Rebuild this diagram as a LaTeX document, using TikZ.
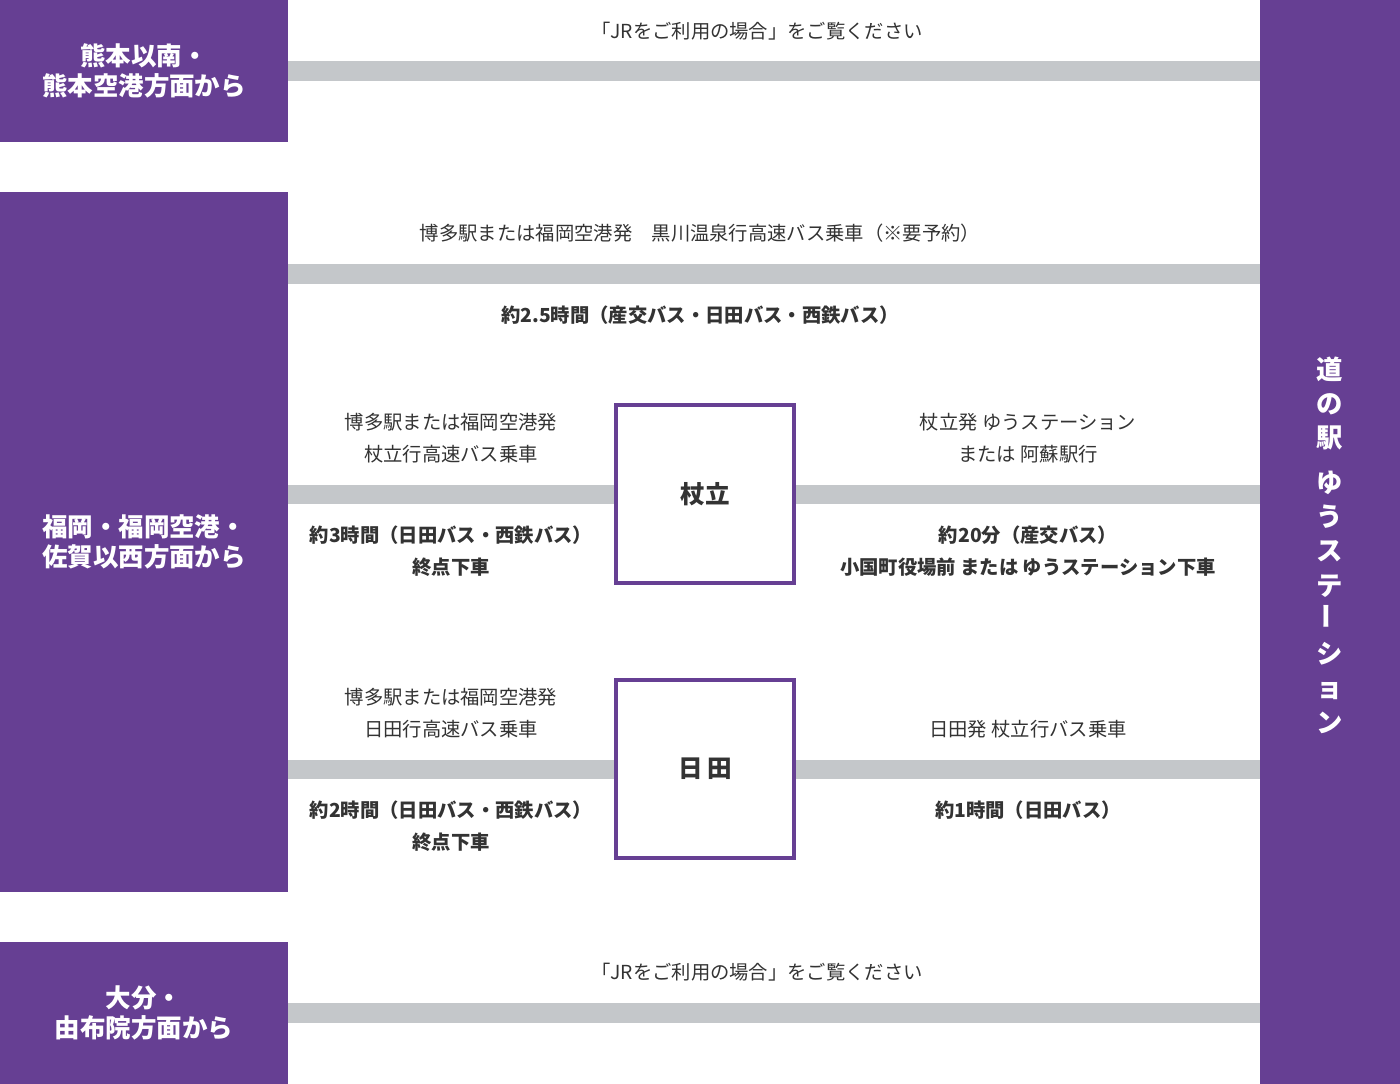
\documentclass[tikz,border=0pt]{standalone}
\usepackage{fontspec}
\setmainfont{Noto Sans CJK JP}
\usepackage{graphicx}
\usetikzlibrary{positioning}
\definecolor{purp}{HTML}{663F93}
\definecolor{barg}{HTML}{C4C7CA}
\definecolor{txt}{HTML}{333333}

\begin{document}
\begin{tikzpicture}[
    x=0.02cm, y=-0.02cm,
    side/.style={fill=purp, draw=none},
    sidetxt/.style={text=white, font=\fontsize{14.5}{17}\selectfont\bfseries, align=center},
    bar/.style={fill=barg, draw=none},
    note/.style={text=txt, font=\fontsize{11}{18}\selectfont, align=center},
    time/.style={text=txt, font=\fontsize{11}{18}\selectfont\bfseries, align=center},
    stop/.style={draw=purp, line width=2.3pt, fill=white, minimum width=3.55cm, minimum height=3.55cm, text=txt, font=\fontsize{14}{16}\selectfont\bfseries}
]

\useasboundingbox (0,0) rectangle (1400,1084);

% --- 1. 左右の帯 ---
\fill[side] (0,0) rectangle (288,142);
\fill[side] (0,192) rectangle (288,892);
\fill[side] (0,942) rectangle (288,1084);
\fill[side] (1260,0) rectangle (1400,1084);

\node[sidetxt] (from_kuma) at (144,71) {熊本以南・\\熊本空港方面から};
\node[sidetxt] (from_fuku) at (144,542) {福岡・福岡空港・\\佐賀以西方面から};
\node[sidetxt] (from_oita) at (144,1013) {大分・\\由布院方面から};
\node[sidetxt, font=\fontsize{15}{19.5}\selectfont\bfseries] (goal) at (1330,545)
    {道\\の\\駅\\[6pt]ゆ\\う\\ス\\テ\\\rotatebox{90}{ー}\\シ\\ョ\\ン};

% --- 2. 路線 (灰色の帯) ---
\fill[bar] (288,61) rectangle (1260,81);
\fill[bar] (288,264) rectangle (1260,284);
\fill[bar] (288,485) rectangle (1260,504);
\fill[bar] (288,760) rectangle (1260,779);
\fill[bar] (288,1003) rectangle (1260,1023);

% --- 3. 乗換地点 ---
\node[stop] (tsue) at (705,494) {杖立};
\node[stop] (hita) at (705,769) {日\,田};

% --- 4. 説明文 ---
\node[note] (jr_top) at (757,31) {「JRをご利用の場合」をご覧ください};
\node[note] (hs_note) at (700,233) {博多駅または福岡空港発\quad 黒川温泉行高速バス乗車（※要予約）};
\node[time] (hs_time) at (700,315) {約2.5時間（産交バス・日田バス・西鉄バス）};

\node[note] (ts_note) at (451,438) {博多駅または福岡空港発\\杖立行高速バス乗車};
\node[time] (ts_time) at (451,551) {約3時間（日田バス・西鉄バス）\\終点下車};
\node[note] (ts_next) at (1028,438) {杖立発 ゆうステーション\\または 阿蘇駅行};
\node[time] (ts_ntime) at (1028,551) {約20分（産交バス）\\小国町役場前 または ゆうステーション下車};

\node[note] (ht_note) at (451,713) {博多駅または福岡空港発\\日田行高速バス乗車};
\node[time] (ht_time) at (451,826) {約2時間（日田バス・西鉄バス）\\終点下車};
\node[note] (ht_next) at (1028,729) {日田発 杖立行バス乗車};
\node[time] (ht_ntime) at (1028,810) {約1時間（日田バス）};

\node[note] (jr_bot) at (757,972) {「JRをご利用の場合」をご覧ください};

\end{tikzpicture}
\end{document}
